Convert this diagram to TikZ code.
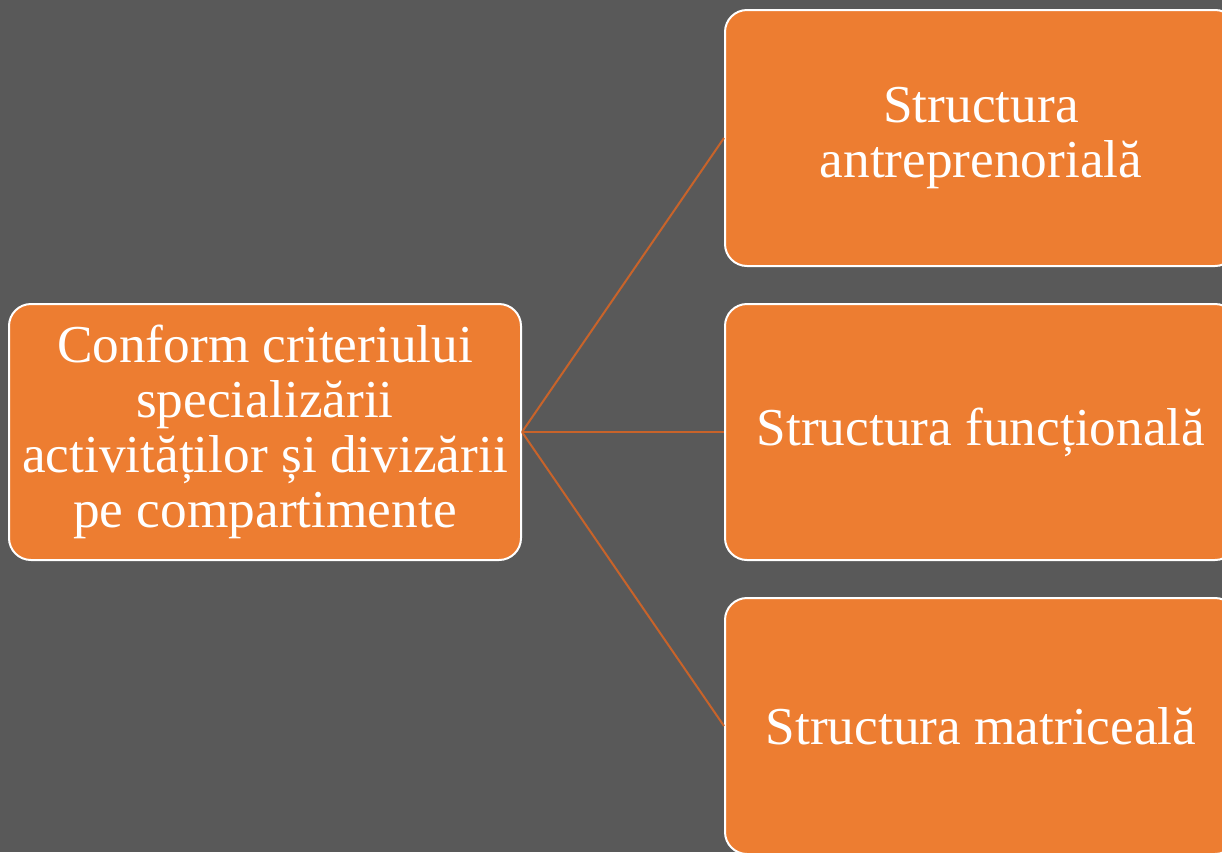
\documentclass[tikz,border=0pt]{standalone}
\usepackage{fontspec}
\setmainfont{Liberation Serif}
\definecolor{bg}{HTML}{595959}
\definecolor{orng}{HTML}{ED7D31}
\definecolor{lnk}{HTML}{C8632A}
\begin{document}
\begin{tikzpicture}[x=1pt,y=-1pt,
  box/.style={draw=white, line width=2pt, fill=orng, rounded corners=22pt,
    minimum width=512pt, minimum height=256pt, inner sep=0pt,
    text=white, align=center, font=\fontsize{53.3}{55}\selectfont},
  link/.style={draw=lnk, line width=2pt}]
\fill[bg] (0,0) rectangle (1222,852);
\useasboundingbox (0,0) rectangle (1222,852);
\begin{scope}
\clip (0,0) rectangle (1222,852);
\node[box] (c) at (265,432) {Conform criteriului\\specializării\\activităților și divizării\\pe compartimente};
\node[box] (a) at (981,138) {Structura\\antreprenorială};
\node[box] (f) at (981,432) {Structura funcțională};
\node[box] (m) at (981,726) {Structura matriceală};
\draw[link] (c.east) -- (a.west);
\draw[link] (c.east) -- (f.west);
\draw[link] (c.east) -- (m.west);
\end{scope}
\end{tikzpicture}
\end{document}
